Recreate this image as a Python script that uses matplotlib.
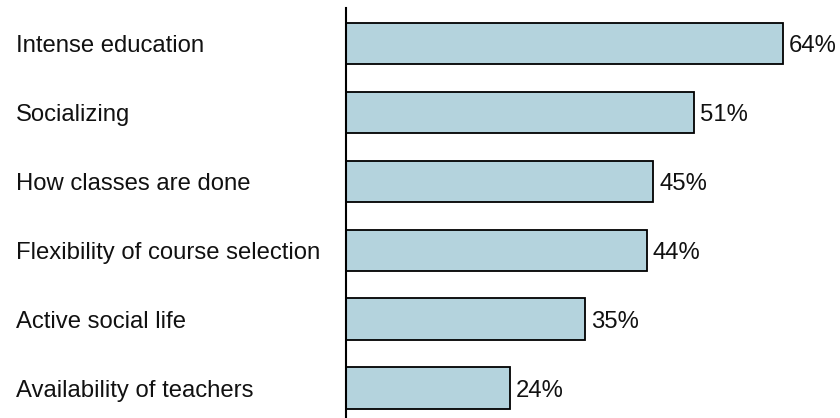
import matplotlib
matplotlib.use('Agg')
import matplotlib.pyplot as plt
import matplotlib.transforms as mtransforms

plt.rcParams['font.family'] = ['Liberation Sans', 'DejaVu Sans']

categories = ['Intense education', 'Socializing', 'How classes are done',
              'Flexibility of course selection', 'Active social life',
              'Availability of teachers']
shares = [64, 51, 45, 44, 35, 24]

BAR_COLOR = '#b4d3dd'
W, H = 840, 418
FS = 17.2
CAP_DROP = -0.36 * FS * 100 / 72   # baseline shift so caps centre on the bar

fig = plt.figure(figsize=(W / 100, H / 100), dpi=100)
ax = fig.add_axes([346 / W, 0, 1 - 346 / W, 410 / H])

pos = list(range(len(categories)))
ax.barh(pos, shares, height=0.6, color=BAR_COLOR, edgecolor='black',
        linewidth=1.3, zorder=2)
ax.set_ylim(len(categories) - 1 + 0.435, -0.515)
ax.set_xlim(0, 494 / 6.83)

for side in ['top', 'right', 'bottom']:
    ax.spines[side].set_visible(False)
ax.spines['left'].set_linewidth(1.5)
ax.spines['left'].set_zorder(3)
ax.set_xticks([])
ax.set_yticks([])

# category names sit flush left in the figure margin
trans = mtransforms.blended_transform_factory(fig.transFigure, ax.transData)
trans = trans + mtransforms.Affine2D().translate(0, CAP_DROP)
for p, name in zip(pos, categories):
    ax.text(16 / W, p, name, transform=trans, ha='left', va='baseline',
            fontsize=FS, color='#111111')

# value labels just past the bar ends
off = mtransforms.offset_copy(ax.transData, fig=fig, x=6, y=CAP_DROP,
                              units='dots')
for p, v in zip(pos, shares):
    ax.text(v, p, f'{v}%', transform=off, ha='left', va='baseline',
            fontsize=FS, color='#111111')

fig.savefig('out.png', dpi=100)
